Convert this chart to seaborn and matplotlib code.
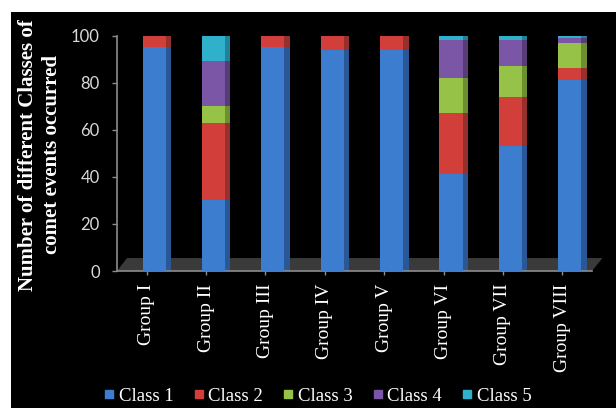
import numpy as np
import pandas as pd
import matplotlib
matplotlib.use("Agg")
import matplotlib.pyplot as plt
from matplotlib.lines import Line2D
from matplotlib.patches import Rectangle, Polygon
import seaborn as sns

# ---- data ----
groups = ["Group I", "Group II", "Group III", "Group IV",
          "Group V", "Group VI", "Group VII", "Group VIII"]
class_names = ["Class 1", "Class 2", "Class 3", "Class 4", "Class 5"]
class1 = [95, 30, 95, 94, 94, 41, 53, 81]
class2 = [5, 33, 5, 6, 6, 26, 21, 5]
class3 = [0, 7, 0, 0, 0, 15, 13, 11]
class4 = [0, 19, 0, 0, 0, 16, 11, 2]
class5 = [0, 11, 0, 0, 0, 2, 2, 1]
yticks = [0, 20, 40, 60, 80, 100]

front_colors = ["#3d7dd0", "#d23f3a", "#96c347", "#7c56a6", "#2fb0cb"]
side_colors = ["#2a5896", "#96302c", "#6c8f31", "#573c78", "#218299"]

sns.set_theme(style="dark")
plt.rcParams["font.family"] = ["DejaVu Sans"]

df = pd.DataFrame({"group": groups, "Class 1": class1, "Class 2": class2,
                   "Class 3": class3, "Class 4": class4, "Class 5": class5})
cum = df[class_names].cumsum(axis=1)

fig = plt.figure(figsize=(6.16, 4.08), dpi=100)
fig.patch.set_facecolor("white")
bg = Rectangle((11 / 616, 0), 1 - 11 / 616, (408 - 12) / 408,
               transform=fig.transFigure, facecolor="black",
               edgecolor="none", zorder=-5)
fig.patches.append(bg)

ax = fig.add_axes([117 / 616, 1 - 271 / 408, (592 - 117) / 616, (271 - 35.5) / 408])
ax.set_zorder(2)
ax.set_facecolor("none")
ax.patch.set_alpha(0)

pos = np.arange(len(groups))
shift = 0.126
front_w = 0.39
side_w = 0.09

# floor (decoration)
floor = Polygon([(0, 0), (1, 0), (1.022, 0.055), (0.021, 0.055)], closed=True,
                transform=ax.transAxes, facecolor="#3a3a3a", edgecolor="none",
                zorder=0.5, clip_on=False)
ax.add_patch(floor)

# stacked bars via overlay of cumulative totals (top class first)
for k in range(len(class_names) - 1, -1, -1):
    vals = cum[class_names[k]].values
    ax.bar(pos + shift + front_w / 2 + side_w / 2, vals, width=side_w,
           color=side_colors[k], linewidth=0, zorder=2)
    sns.barplot(x=pos + shift, y=vals, native_scale=True, width=front_w,
                color=front_colors[k], saturation=1, linewidth=0, ax=ax,
                zorder=3, errorbar=None)

ax.set_xlim(-0.5, 7.5)
ax.set_ylim(0, 100)
ax.set_xticks(pos)
ax.set_xticklabels(groups, rotation=90, family="Liberation Serif",
                   fontsize=14, color="white")
ax.set_yticks(yticks)
ax.set_yticklabels([str(v) for v in yticks], family="Lato", fontsize=12,
                   color="#d9d9d9")
ax.set_xlabel("")
ax.set_ylabel("")
ax.grid(False)
for s in ["top", "right"]:
    ax.spines[s].set_visible(False)
for s in ["left", "bottom"]:
    ax.spines[s].set_visible(True)
    ax.spines[s].set_color("#8c8c8c")
    ax.spines[s].set_linewidth(1.2)
ax.tick_params(axis="y", which="both", left=True, length=3.5, width=1,
               color="#8c8c8c", pad=9)
ax.tick_params(axis="x", which="both", bottom=True, length=3, width=1,
               color="#8c8c8c", pad=6)

fig.text(40 / 616, 1 - 155 / 408,
         "Number of different Classes of\ncomet events occurred",
         rotation=90, ha="center", va="center", family="Liberation Serif",
         fontweight="bold", fontsize=15, color="white", linespacing=1.25)

handles = [Line2D([0], [0], marker="s", linestyle="none", markersize=6,
                  markerfacecolor=c, markeredgecolor=c) for c in front_colors]
leg = fig.legend(handles, class_names, loc="center", ncol=5,
                 bbox_to_anchor=(318 / 616, 12 / 408), frameon=False,
                 prop={"family": "Liberation Serif", "size": 13.5},
                 handlelength=0.5, handletextpad=0.25, columnspacing=1.1,
                 borderaxespad=0)
for t in leg.get_texts():
    t.set_color("white")

fig.savefig("out.png", dpi=100, facecolor=fig.get_facecolor())
